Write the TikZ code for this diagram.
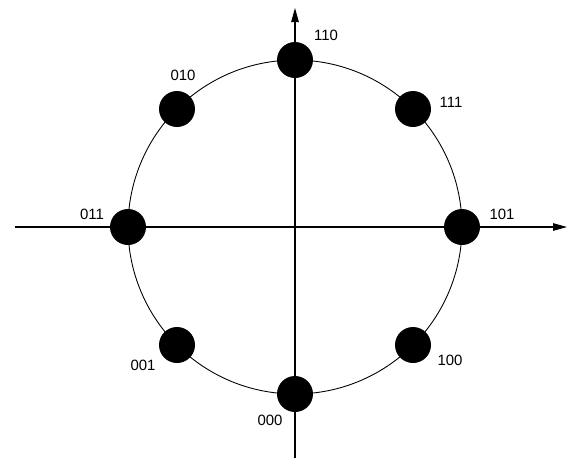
\documentclass[tikz,border=0pt]{standalone}
\usepackage{fontspec}
\setmainfont{Liberation Sans}
\usetikzlibrary{arrows.meta}
\begin{document}
\begin{tikzpicture}[x=0.02cm,y=-0.02cm,
  dot/.style={circle,fill=black,inner sep=0pt,minimum size=0.72cm},
  lbl/.style={font=\fontsize{8.5}{10}\selectfont,inner sep=0pt},
  axis/.style={line width=0.6pt,-{Triangle[length=0.28cm,width=0.15cm]}}]
\useasboundingbox (0,0) rectangle (568,461);
\coordinate (O) at (295,227);
\coordinate (xl) at (15,227);
\coordinate (xr) at (567,227);
\coordinate (yb) at (295,458);
\coordinate (yt) at (295,8);
\draw[axis] (xl) -- (xr);
\draw[axis] (yb) -- (yt);
\draw[line width=0.5pt] (O) circle[radius=3.34cm];
\node[dot] (d110) at (295,60) {};
\node[dot] (d111) at (413,109) {};
\node[dot] (d101) at (462,227) {};
\node[dot] (d100) at (413,345) {};
\node[dot] (d000) at (295,394) {};
\node[dot] (d001) at (177,345) {};
\node[dot] (d011) at (128,227) {};
\node[dot] (d010) at (177,109) {};
\node[lbl] (l110) at (326,35) {110};
\node[lbl] (l111) at (451,102) {111};
\node[lbl] (l101) at (502,214) {101};
\node[lbl] (l100) at (450,360) {100};
\node[lbl] (l000) at (270,420) {000};
\node[lbl] (l001) at (143,365) {001};
\node[lbl] (l011) at (92,214) {011};
\node[lbl] (l010) at (183,75) {010};
\end{tikzpicture}
\end{document}
